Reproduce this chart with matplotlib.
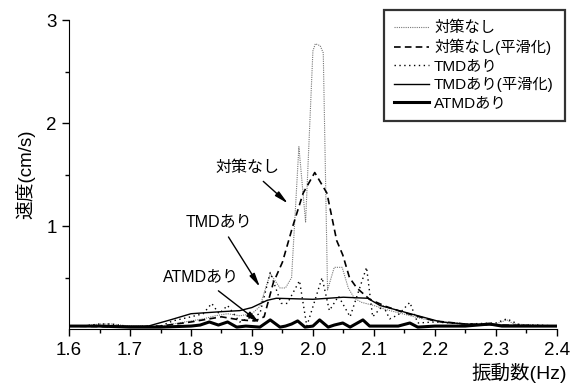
import matplotlib.pyplot as plt

plt.rcParams['font.family'] = ['Liberation Sans', 'Noto Sans CJK JP', 'DejaVu Sans']

# 対策なし (生データ)
freq_none = [1.60, 1.62, 1.65, 1.67, 1.70, 1.73, 1.75, 1.78, 1.80, 1.82, 1.84, 1.86, 1.88, 1.90, 1.913,
             1.93, 1.946, 1.955, 1.965, 1.977, 1.988, 2.000, 2.004, 2.012, 2.017, 2.024, 2.035, 2.048,
             2.058, 2.068, 2.08, 2.10, 2.12, 2.14, 2.16, 2.18, 2.20, 2.25, 2.30, 2.318, 2.33, 2.36, 2.40]
vel_none = [0.03, 0.03, 0.05, 0.05, 0.03, 0.03, 0.03, 0.06, 0.08, 0.10, 0.13, 0.15, 0.13, 0.15, 0.22,
            0.54, 0.40, 0.40, 0.50, 1.77, 1.04, 2.70, 2.77, 2.75, 2.68, 0.38, 0.60, 0.60,
            0.40, 0.30, 0.26, 0.23, 0.19, 0.16, 0.13, 0.10, 0.08, 0.05, 0.05, 0.09, 0.05, 0.04, 0.03]

# 対策なし (平滑化)
freq_none_s = [1.60, 1.70, 1.75, 1.80, 1.85, 1.88, 1.905, 1.92, 1.935, 1.95, 1.967, 1.984, 2.003,
               2.023, 2.039, 2.049, 2.06, 2.072, 2.093, 2.12, 2.15, 2.20, 2.25, 2.30, 2.40]
vel_none_s = [0.03, 0.02, 0.03, 0.07, 0.12, 0.09, 0.08, 0.12, 0.45, 0.65, 1.00, 1.32, 1.52,
              1.32, 0.86, 0.72, 0.50, 0.40, 0.29, 0.22, 0.16, 0.08, 0.05, 0.04, 0.03]

# TMDあり (生データ)
freq_tmd = [1.60, 1.62, 1.65, 1.67, 1.70, 1.73, 1.75, 1.77, 1.80, 1.82, 1.834, 1.846, 1.86, 1.88, 1.90,
            1.913, 1.93, 1.948, 1.958, 1.978, 1.99, 2.015, 2.027, 2.042, 2.061, 2.088, 2.098, 2.115,
            2.126, 2.14, 2.159, 2.172, 2.20, 2.25, 2.30, 2.318, 2.34, 2.37, 2.40]
vel_tmd = [0.03, 0.03, 0.05, 0.05, 0.02, 0.03, 0.03, 0.08, 0.12, 0.15, 0.25, 0.15, 0.23, 0.07, 0.12,
           0.15, 0.55, 0.25, 0.25, 0.47, 0.03, 0.50, 0.18, 0.32, 0.12, 0.60, 0.12, 0.23,
           0.10, 0.14, 0.26, 0.06, 0.07, 0.05, 0.06, 0.10, 0.04, 0.04, 0.03]

# TMDあり (平滑化)
freq_tmd_s = [1.60, 1.70, 1.73, 1.766, 1.80, 1.85, 1.88, 1.90, 1.925, 1.94, 2.00, 2.05, 2.09,
              2.11, 2.16, 2.21, 2.25, 2.30, 2.40]
vel_tmd_s = [0.03, 0.03, 0.03, 0.09, 0.15, 0.17, 0.18, 0.21, 0.28, 0.30, 0.29, 0.31, 0.30,
             0.23, 0.15, 0.07, 0.05, 0.04, 0.03]

# ATMDあり
freq_atmd = [1.60, 1.65, 1.70, 1.75, 1.80, 1.815, 1.83, 1.845, 1.86, 1.875, 1.89, 1.913, 1.93,
             1.946, 1.955, 1.965, 1.975, 1.987, 2.000, 2.011, 2.025, 2.035, 2.049, 2.061, 2.082,
             2.093, 2.12, 2.14, 2.159, 2.172, 2.20, 2.25, 2.29, 2.31, 2.35, 2.40]
vel_atmd = [0.03, 0.03, 0.02, 0.02, 0.03, 0.04, 0.07, 0.04, 0.07, 0.02, 0.03, 0.02, 0.09,
            0.02, 0.03, 0.05, 0.08, 0.02, 0.03, 0.09, 0.02, 0.04, 0.06, 0.02, 0.09,
            0.03, 0.03, 0.03, 0.06, 0.02, 0.03, 0.03, 0.05, 0.03, 0.03, 0.03]

fig = plt.figure(figsize=(5.71, 3.85), dpi=100)
ax = fig.add_axes([0.121, 0.145, 0.854, 0.803])

ax.plot(freq_none, vel_none, color='#777777', lw=0.8, linestyle=(0, (1, 1)), label='対策なし')
ax.plot(freq_none_s, vel_none_s, color='black', lw=1.2, linestyle=(0, (4, 2.5)), label='対策なし(平滑化)')
ax.plot(freq_tmd, vel_tmd, color='black', lw=1.0, linestyle=(0, (1, 2.5)), label='TMDあり')
ax.plot(freq_tmd_s, vel_tmd_s, color='black', lw=1.0, label='TMDあり(平滑化)')
ax.plot(freq_atmd, vel_atmd, color='black', lw=2.2, label='ATMDあり')

ax.set_xlim(1.6, 2.4)
ax.set_ylim(0, 3)
ax.set_xticks([1.6, 1.7, 1.8, 1.9, 2.0, 2.1, 2.2, 2.3, 2.4])
ax.set_xticks([1.65, 1.75, 1.85, 1.95, 2.05, 2.15, 2.25, 2.35], minor=True)
ax.set_yticks([1, 2, 3])
ax.set_yticks([0.5, 1.5, 2.5], minor=True)
ax.tick_params(which='major', direction='out', length=5, width=1, labelsize=13.5, pad=4)
ax.tick_params(which='minor', direction='out', length=3, width=1)
ax.spines['top'].set_visible(False)
ax.spines['right'].set_visible(False)

ax.set_ylabel('速度(cm/s)', fontsize=13.5, labelpad=8)
fig.text(0.993, 0.005, '振動数(Hz)', fontsize=14, ha='right', va='bottom')

arrow = dict(arrowstyle='-|>,head_length=0.7,head_width=0.15', color='black', lw=1.0, shrinkA=4, shrinkB=0)
ax.annotate('対策なし', xy=(1.959, 1.22), xytext=(1.893, 1.57), fontsize=11.5,
            ha='center', va='center', arrowprops=arrow)
ax.annotate('TMDあり', xy=(1.913, 0.41), xytext=(1.846, 1.04), fontsize=11.5,
            ha='center', va='center', arrowprops=arrow)
ax.annotate('ATMDあり', xy=(1.913, 0.06), xytext=(1.816, 0.505), fontsize=11.5,
            ha='center', va='center', arrowprops=arrow)

leg = ax.legend(loc='upper right', bbox_to_anchor=(1.016, 1.032), borderaxespad=0, fontsize=11,
                frameon=True, fancybox=False, handlelength=2.3, handletextpad=0.3, labelspacing=0.25,
                borderpad=0.7)
leg.get_frame().set_edgecolor('black')
leg.get_frame().set_linewidth(1.6)

plt.savefig('out.png', dpi=100)
plt.close()
